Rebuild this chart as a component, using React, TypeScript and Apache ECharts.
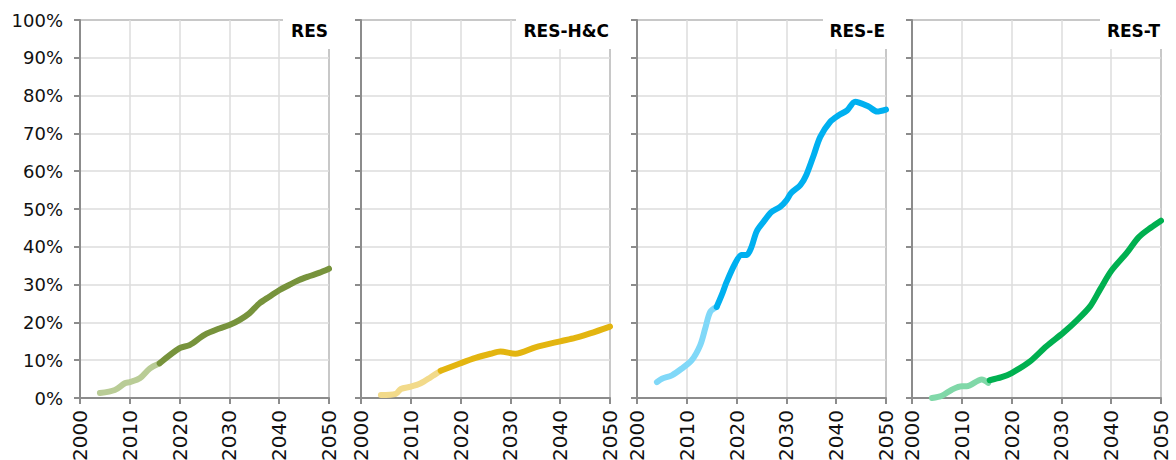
import React, { useEffect, useRef } from "react";
import * as echarts from "echarts";

const panelTitles = ["RES", "RES-H&C", "RES-E", "RES-T"];
const yTickLabels = ["0%", "10%", "20%", "30%", "40%", "50%", "60%", "70%", "80%", "90%", "100%"];

// RES
const resHistYears = [2004, 2007, 2009, 2010, 2012, 2014, 2016];
const resHistValues = [1.3, 2.1, 3.9, 4.2, 5.2, 7.8, 9.2];
const resProjYears = [2016, 2020, 2022, 2025, 2028, 2030, 2032, 2034, 2036, 2038, 2040, 2042, 2044, 2046, 2048, 2050];
const resProjValues = [9.2, 13.2, 14.0, 16.7, 18.4, 19.3, 20.6, 22.4, 25.0, 26.8, 28.5, 29.9, 31.2, 32.2, 33.1, 34.2];

// RES-H&C
const hcHistYears = [2004, 2007, 2008, 2010, 2012, 2014, 2016];
const hcHistValues = [0.8, 1.1, 2.4, 3.0, 3.9, 5.5, 7.2];
const hcProjYears = [2016, 2020, 2023, 2026, 2028, 2031, 2035, 2040, 2043, 2046, 2050];
const hcProjValues = [7.2, 9.2, 10.6, 11.7, 12.3, 11.7, 13.4, 15.0, 15.9, 17.1, 18.9];

// RES-E
const eHistYears = [2004, 2005, 2007, 2009, 2011, 2012.7, 2013.7, 2014.7, 2016];
const eHistValues = [4.2, 5.1, 6.0, 7.8, 10.0, 14.0, 18.4, 22.8, 24.1];
const eProjYears = [2016, 2017, 2018, 2019.7, 2021, 2022, 2023, 2024, 2025.4, 2027, 2028.8, 2030, 2031, 2032.8, 2034, 2035.5, 2036.8, 2038.8, 2040.5, 2042.2, 2043.8, 2046.5, 2048.2, 2050];
const eProjValues = [24.1, 27.2, 30.7, 35.6, 37.8, 37.8, 40.0, 44.0, 46.6, 49.2, 50.6, 52.3, 54.3, 56.3, 59.0, 64.3, 69.1, 73.1, 74.8, 76.1, 78.4, 77.1, 75.8, 76.3];

// RES-T
const tHistYears = [2004, 2006, 2008, 2010, 2011, 2014, 2015.3];
const tHistValues = [0.0, 0.6, 2.2, 3.1, 3.1, 4.9, 4.0];
const tProjYears = [2015.6, 2018, 2020, 2023.7, 2027, 2030.4, 2033, 2035.8, 2037.8, 2040, 2043.2, 2045.5, 2048, 2050];
const tProjValues = [4.7, 5.5, 6.6, 9.7, 13.7, 17.3, 20.4, 24.3, 28.8, 33.6, 38.5, 42.5, 45.1, 46.9];

const darkColors = ["#77933C", "#E3B510", "#00B0F0", "#00B050"];
const lightColors = ["#B9CC96", "#F2DA8A", "#80D8F8", "#80D8A8"];

const histYears = [resHistYears, hcHistYears, eHistYears, tHistYears];
const histValues = [resHistValues, hcHistValues, eHistValues, tHistValues];
const projYears = [resProjYears, hcProjYears, eProjYears, tProjYears];
const projValues = [resProjValues, hcProjValues, eProjValues, tProjValues];

const gridLefts = [80, 361, 637, 912];
const gridWidth = 249;
const gridTop = 20;
const gridHeight = 378;
const boxWidths = [46, 94, 63, 61];

const zip = (xs: number[], ys: number[]) => xs.map((x, i) => [x, ys[i]]);

export default function App() {
  const ref = useRef<HTMLDivElement>(null);
  useEffect(() => {
    document.body.style.margin = "0";
    if (!ref.current) return;
    const chart = echarts.init(ref.current, undefined, { renderer: "svg" });
    const axisColor = "#8c8c8c";
    const font = "DejaVu Sans";
    const grids = gridLefts.map((left) => ({
      left,
      top: gridTop,
      width: gridWidth,
      height: gridHeight,
      show: true,
      borderColor: axisColor,
      borderWidth: 2,
      backgroundColor: "transparent",
      outerBoundsMode: "none",
      containLabel: false,
    }));
    const xAxes = gridLefts.map((_, i) => ({
      type: "value",
      gridIndex: i,
      min: 2000,
      max: 2050,
      interval: 10,
      axisLine: { show: true, lineStyle: { color: axisColor, width: 2 } },
      axisTick: { show: true, length: 6, lineStyle: { color: axisColor, width: 2 } },
      splitLine: { show: true, lineStyle: { color: "#dcdcdc", width: 1.5 } },
      axisLabel: {
        rotate: 90,
        margin: 12,
        fontSize: 20,
        fontFamily: font,
        color: "#111111",
        hideOverlap: false,
        formatter: (v: number) => String(v),
      },
    }));
    const yAxes = gridLefts.map((_, i) => ({
      type: "value",
      gridIndex: i,
      min: 0,
      max: 100,
      interval: 10,
      axisLine: { show: true, lineStyle: { color: axisColor, width: 2 } },
      axisTick: { show: true, length: 6, lineStyle: { color: axisColor, width: 2 } },
      splitLine: { show: true, lineStyle: { color: "#dcdcdc", width: 1.5 } },
      axisLabel: {
        show: i === 0,
        margin: 17,
        fontSize: 18,
        fontFamily: font,
        color: "#111111",
        formatter: (v: number) => yTickLabels[Math.round(v / 10)],
      },
    }));
    const series: any[] = [];
    for (let i = 0; i < 4; i++) {
      series.push({
        type: "line",
        xAxisIndex: i,
        yAxisIndex: i,
        data: zip(histYears[i], histValues[i]),
        smooth: 0.3,
        showSymbol: false,
        lineStyle: { color: lightColors[i], width: 6, cap: "round", join: "round" },
        z: 3,
      });
      series.push({
        type: "line",
        xAxisIndex: i,
        yAxisIndex: i,
        data: zip(projYears[i], projValues[i]),
        smooth: 0.3,
        showSymbol: false,
        lineStyle: { color: darkColors[i], width: 6, cap: "round", join: "round" },
        z: 4,
      });
    }
    const graphics: any[] = [];
    gridLefts.forEach((left, i) => {
      const right = left + gridWidth;
      graphics.push({
        type: "rect",
        z: 100,
        shape: { x: right - boxWidths[i], y: 10, width: boxWidths[i] + 6, height: 39 },
        style: { fill: "#ffffff" },
      });
      graphics.push({
        type: "text",
        z: 101,
        x: right - 1,
        y: 31,
        style: {
          text: panelTitles[i],
          fill: "#000000",
          font: `bold 17px "${font}"`,
          textAlign: "right",
          textVerticalAlign: "middle",
        },
      });
    });
    chart.setOption({
      animation: false,
      backgroundColor: "#ffffff",
      grid: grids,
      xAxis: xAxes,
      yAxis: yAxes,
      series,
      graphic: graphics,
    });
    return () => chart.dispose();
  }, []);
  return <div ref={ref} style={{ width: 1176, height: 460 }} />;
}
